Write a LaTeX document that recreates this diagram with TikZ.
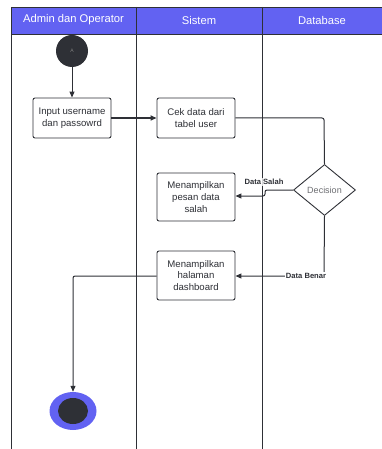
\documentclass[tikz,border=0pt]{standalone}
\usepackage{fontspec}
\setmainfont{Liberation Sans}
\usetikzlibrary{shapes.geometric,arrows.meta}
\definecolor{lane}{HTML}{6262F2}
\definecolor{ink}{HTML}{2E3036}
\tikzset{
  actbox/.style={draw=ink,line width=0.9pt,rounded corners=2pt,fill=white,minimum width=78pt,align=center,font=\fontsize{9.6}{11.8}\selectfont,text=ink},
  flow/.style={draw=ink,line width=1pt,-{Triangle[length=6pt,width=5pt]},rounded corners=2pt},
  lbl/.style={font=\bfseries\fontsize{7.6}{8}\selectfont,text=ink,inner sep=1pt},
  hdr/.style={font=\fontsize{11.2}{13}\selectfont,text=white},
}
\begin{document}
\begin{tikzpicture}[x=1pt,y=-1pt]
\useasboundingbox (0,0) rectangle (382,449);
% header
\fill[lane] (11,7) rectangle (382,34);
\draw[ink,line width=0.9pt] (382,7) -- (11,7) -- (11,449);
\draw[ink,line width=0.9pt] (11,34) -- (382,34);
\draw[ink,line width=0.9pt] (136.5,7) -- (136.5,449);
\draw[ink,line width=0.9pt] (262,7) -- (262,449);
\node[hdr] (h1) at (73.5,20) {Admin dan Operator};
\node[hdr] (h2) at (199,20) {Sistem};
\node[hdr] (h3) at (322,20) {Database};
% nodes
\node[ellipse,fill=ink,minimum width=32pt,minimum height=32pt,inner sep=0pt,text=gray,font=\fontsize{5}{6}\selectfont] (start) at (72,51) {A};
\node[actbox,minimum height=40pt,minimum width=78pt] (b1) at (72,118) {Input username\\dan passowrd};
\node[actbox,minimum height=40pt,minimum width=78pt] (b2) at (196,118) {Cek data dari\\tabel user};
\node[diamond,draw=ink,line width=0.9pt,fill=white,minimum width=62pt,minimum height=51pt,inner sep=0pt,aspect=1.2,font=\fontsize{9}{11}\selectfont,text=ink!70] (dec) at (324.5,190) {Decision};
\node[actbox,minimum height=48pt] (b3) at (196,197) {Menampilkan\\pesan data\\salah};
\node[actbox,minimum height=49pt] (b4) at (196,275.5) {Menampilkan\\halaman\\dashboard};
\node[ellipse,fill=lane,minimum width=47pt,minimum height=38pt,inner sep=0pt] (end) at (73,411) {};
\node[ellipse,fill=ink,minimum width=30pt,minimum height=26pt,inner sep=0pt] (endin) at (73,411) {};
\coordinate (c1) at (324,118);
\coordinate (c2) at (265,190);
\coordinate (c3) at (265,196);
\coordinate (c4) at (324,276);
\coordinate (c5) at (73,276);
% connectors
\draw[flow] (start) -- (b1);
\draw[flow,line width=1.6pt] (b1) -- (b2);
\draw[draw=ink,line width=1pt,rounded corners=2pt] (b2.east) -- (c1) -- (dec.north);
\draw[flow] (dec.west) -- (c2) -- (c3) -- (b3.east |- c3);
\draw[flow] (dec.south) -- (c4) -- (b4.east |- c4);
\draw[flow] (b4.west |- c5) -- (c5) -- (end.north);
\node[lbl,fill=white,fill opacity=0.8,text opacity=1] (l1) at (264,182) {Data Salah};
\node[lbl,fill=white] (l2) at (306,275.5) {Data Benar};
\end{tikzpicture}
\end{document}
